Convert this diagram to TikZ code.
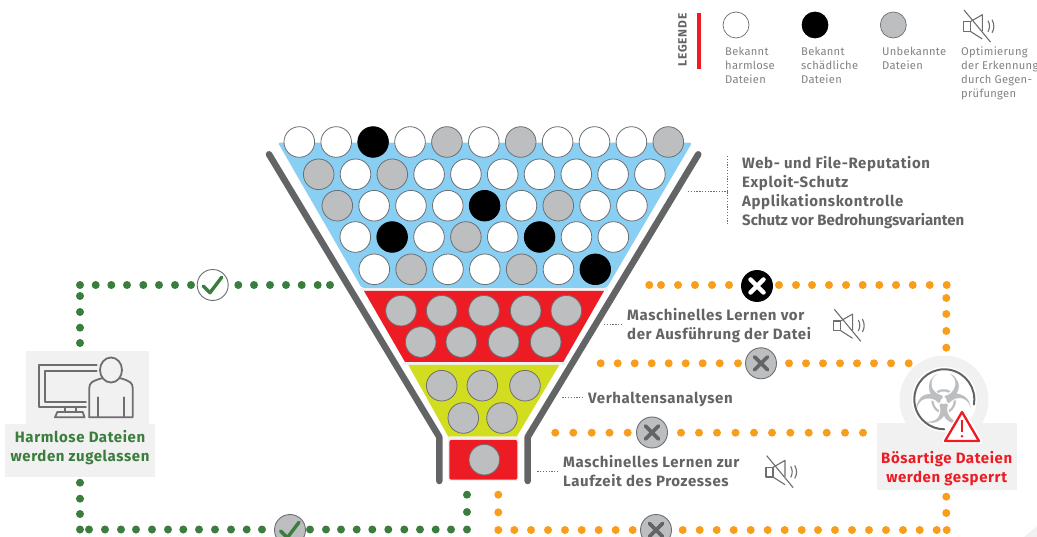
\documentclass[tikz,border=0pt]{standalone}
\usepackage{fontspec}
\setmainfont{Fira Sans}
\newfontfamily\symfont{DejaVu Sans}
\newfontfamily\labfont[LetterSpace=4]{Fira Sans}
\newfontfamily\tightfont{Fira Sans}
\newfontfamily\legfont[LetterSpace=2.5]{Fira Sans}
\newfontfamily\legtitle[LetterSpace=6]{Fira Sans}
\definecolor{fblue}{HTML}{89CFF4}
\definecolor{fred}{HTML}{ED1C24}
\definecolor{fyellow}{HTML}{D3DD20}
\definecolor{forange}{HTML}{F99D1C}
\definecolor{fgreen}{HTML}{3A7D3C}
\definecolor{fgrey}{HTML}{BCBEC0}
\definecolor{fline}{HTML}{6D6E70}
\definecolor{fdark}{HTML}{636466}
\definecolor{fpale}{HTML}{F1F1F1}
\definecolor{flegend}{HTML}{808285}
\tikzset{
  x=1pt,y=-1pt,
  ball/.style={circle,minimum size=30.6pt,inner sep=0pt,draw=fline,line width=.8pt},
  wb/.style={ball,fill=white},
  gb/.style={ball,fill=fgrey},
  kb/.style={ball,fill=black,draw=black},
  legball/.style={circle,minimum size=26pt,inner sep=0pt,draw=fline,line width=.7pt},
  badge/.style={circle,minimum size=31pt,inner sep=0pt,line width=.9pt},
  leader/.style={draw=fline,line width=.6pt,dash pattern=on 1.3pt off 1.5pt},
  funnel/.style={draw=fdark,line width=6.5pt,line cap=round,line join=round},
  lab/.style={font=\labfont\fontsize{15}{19}\bfseries\selectfont,text=fdark,anchor=west,align=left,inner sep=0pt},
  leg/.style={font=\legfont\fontsize{11.2}{14}\selectfont,text=flegend,anchor=north west,align=left,inner sep=0pt},
  res/.style={font=\labfont\fontsize{15}{19}\bfseries\selectfont,align=center,inner sep=0pt},
  icon/.style={draw=fline,line width=1.8pt,line join=round,line cap=round},
  mutel/.style={draw=fline,line width=1.1pt,line join=round},
  pics/mute/.style={code={
    \draw[mutel] (0,0) -- (26.5,32);
    \draw[mutel] (-.7,11.7) rectangle (6.3,21.3);
    \draw[mutel] (6.3,11.7) -- (18.3,4.7) -- (18.3,21);
    \draw[mutel] (6.3,21.3) -- (18.3,29);
    \draw[mutel] (24,10.7) .. controls (26,14) and (26,18) .. (24,21.7);
    \draw[mutel] (28,9.7) .. controls (30.5,14) and (30.5,19) .. (28,22.7);
  }}
}
\newcommand{\gdots}[2]{\foreach \px/\py in {#2} \fill[#1] (\px,\py) circle (4pt);}
\begin{document}
\begin{tikzpicture}
\useasboundingbox (0,0) rectangle (1037,537);
\clip (0,0) rectangle (1037,537);
\fill[white] (0,0) rectangle (1037,537);
\fill[fpale] (1037,526) -- (1037,537) -- (1024,537) -- cycle;

% funnel walls
\draw[funnel] (269,154.3) -- (439.3,437) -- (439.3,481);
\draw[funnel] (698.3,154.3) -- (527.7,437) -- (527.7,481);

% funnel stages
\fill[fblue,rounded corners=2pt] (278,142.7) -- (692,142.7) -- (606.7,288) -- (361.7,288) -- cycle;
\fill[fpale] (360,288) rectangle (608,291);
\fill[fred] (364,291) -- (604,291) -- (563.3,362) -- (405,362) -- cycle;
\fill[fpale] (403,362) rectangle (565,365);
\fill[fyellow] (408.3,365) -- (559.3,365) -- (516.7,436.7) -- (448.3,436.7) -- cycle;
\fill[fpale,rounded corners=2pt] (448,436.7) rectangle (518.5,481);
\fill[fred,rounded corners=2pt] (449.3,440) rectangle (517.3,479.7);

% balls
\foreach \st [count=\i from 0] in {wb,wb,kb,wb,gb,wb,gb,wb,wb,wb,gb}
  \node[\st] (ra\i) at (299.3+36.9*\i,142) {};
\foreach \st [count=\i from 0] in {gb,wb,gb,wb,wb,wb,wb,wb,wb,wb}
  \node[\st] (rb\i) at (318.7+36.8*\i,174.3) {};
\foreach \st [count=\i from 0] in {gb,wb,wb,wb,kb,wb,gb,wb,wb}
  \node[\st] (rc\i) at (337.3+36.83*\i,205.7) {};
\foreach \st [count=\i from 0] in {wb,kb,wb,gb,wb,kb,wb,wb}
  \node[\st] (rd\i) at (355.3+36.86*\i,237) {};
\foreach \st [count=\i from 0] in {wb,gb,wb,wb,gb,wb,kb}
  \node[\st] (re\i) at (374.3+36.83*\i,269.3) {};
\foreach \px [count=\i] in {401,441.7,484,525.7,566.3} \node[gb] (ma\i) at (\px,310.7) {};
\foreach \px [count=\i] in {420.7,461.3,503.7,545.7} \node[gb] (mb\i) at (\px,342) {};
\foreach \px [count=\i] in {441.7,482.3,525} \node[gb] (va\i) at (\px,385.7) {};
\foreach \px [count=\i] in {463.3,502} \node[gb] (vb\i) at (\px,418) {};
\node[gb] (lz) at (484.3,459.7) {};

% green dots
\gdots{fgreen}{80/285,95.7/285,111.3/285,127/285,143.3/285,159/285,175/285,191/285,238.3/285,254/285,270/285,286/285,301.7/285,317.7/285,330/285,
 80/296,80/312,80/327.7,80/343,80/482.7,80/498.7,80/514,80/529.5,
 89/529.5,105/529.5,121/529.5,136/529.5,152/529.5,168/529.5,183.3/529.5,199/529.5,215/529.5,231/529.5,246.7/529.5,262/529.5,
 310/529.5,326/529.5,341/529.5,356.7/529.5,372.3/529.5,388.3/529.5,404.3/529.5,420/529.5,435.7/529.5,451/529.5,467/529.5,467/512,467/494.7}
% orange dots
\gdots{forange}{649.3/285,661/285,678/285,695/285,712/285,729/285,
 779/285,796/285,812/285,829/285,846/285,862.7/285,879.3/285,896/285,912.7/285,929.7/285,946.7/285,
 946.3/298,946.3/314,946.3/331,946.3/347.7,
 600.7/363.3,617.7/363.3,634.7/363.3,651.7/363.3,668.7/363.3,685.7/363.3,702.7/363.3,719.7/363.3,738/363.3,
 789/363.3,806/363.3,823/363.3,840/363.3,857/363.3,874/363.3,891/363.3,908.7/363.3,
 555.3/432.7,573.3/432.7,591.7/432.7,609.5/432.7,627.7/432.7,
 681/432.7,699/432.7,717/432.7,735.5/432.7,754/432.7,772/432.7,790.3/432.7,808.7/432.7,826.7/432.7,845/432.7,863/432.7,
 498.3/494.7,498.3/512.3,498.3/530,514.3/530,531/530,548/530,565/530,581.7/530,598.7/530,615.7/530,632.7/530,
 682.7/530,699.7/530,716.7/530,733.7/530,750.7/530,767.7/530,784.7/530,801.7/530,818/530,835/530,852/530,869/530,886/530,903/530,919.7/530,936.7/530,946.7/530,
 946.3/513,946.3/496.7}

% badges
\node[badge,fill=white,draw=fline] (okTop) at (212.7,285) {};
\draw[fgreen,line width=3.4pt,line cap=round,line join=round] (203.3,286) -- (210,292.7) -- (221.7,277.3);
\node[badge,fill=fgrey,draw=fline] (okBot) at (290,530) {};
\draw[fgreen,line width=3.4pt,line cap=round,line join=round] (280.6,531) -- (287.3,537.7) -- (299,522.3);
\node[badge,fill=black,draw=black] (xTop) at (757,286) {};
\draw[white,line width=4.5pt,line cap=round] (750.5,279.5) -- (763.5,292.5) (750.5,292.5) -- (763.5,279.5);
\foreach \nm/\px/\py in {xA/761/363.3,xB/652/432.5,xC/656/530}{
  \node[badge,fill=fgrey,draw=fline] (\nm) at (\px,\py) {};
  \draw[fdark,line width=3.6pt,line cap=round] (\px-6.5,\py-6.5) -- (\px+6.5,\py+6.5) (\px-6.5,\py+6.5) -- (\px+6.5,\py-6.5);
}

% left result
\fill[fpale] (26,351) rectangle (149,424);
\node[fill=fpale,minimum width=150pt,minimum height=53pt,inner sep=0pt] (okBox) at (80,450.5) {};
\node[res,text=fgreen] (okText) at (80,447.7) {Harmlose Dateien\\werden zugelassen};
\draw[icon] (96.7,365.3) -- (39.3,365.3) -- (39.3,406.7) -- (86,406.7);
\draw[icon] (96.7,370.7) -- (45.3,370.7) -- (45.3,401.7) -- (86,401.7);
\draw[icon] (65,406.7) -- (65,412) (76,406.7) -- (76,412);
\draw[icon] (57.3,412) -- (82.7,412) -- (84.5,417.3) -- (55,417.3) -- cycle;
\draw[icon] (111,370) ellipse (11pt and 12.5pt);
\draw[icon] (89.3,417.3) -- (89.3,388) .. controls (89.3,383) and (92,381) .. (101.7,378.3);
\draw[icon] (120.7,378.3) .. controls (130,381) and (132.7,383) .. (132.7,388) -- (132.7,417.3) -- (89.3,417.3);
\draw[icon] (98,397.3) -- (98,417.3) (124,397.3) -- (124,417.3);

% right result
\fill[fpale] (944,400) circle (44.5pt);
\fill[fpale] (877,423) rectangle (1016.7,489.7);
\fill[white] (944.3,399.3) circle (32.5pt);
\node[font=\symfont\fontsize{68}{68}\selectfont,text=fgrey,inner sep=0pt] (bio) at (944,399) {☣};
\fill[white] (944.3,399.3) circle (2pt);
\draw[fdark,line width=2pt,line cap=round] (944.3,399.3) ++(10:30) arc[start angle=-10,end angle=270,radius=30pt];
\draw[white,line width=5pt,line join=round] (962,410.7) -- (980,441) -- (945,441) -- cycle;
\draw[fill=white,draw=fred,line width=2.3pt,line join=round] (962,412) -- (979,441) -- (945,441) -- cycle;
\draw[fred,line width=2.2pt] (962,420.5) -- (962,432);
\fill[fred] (962,436.3) circle (1.4pt);
\node[res,text=fred] (badText) at (946.7,468.8) {Bösartige Dateien\\werden gesperrt};

% leaders
\draw[leader] (727.3,156) -- (727.3,225);
\draw[leader] (688,191.7) -- (727.3,191.7);
\draw[leader] (604,324.7) -- (621.7,324.7);
\draw[leader] (562.3,397.3) -- (584,397.3);
\draw[leader] (537.3,471.7) -- (559.3,471.7);

% labels
\node[lab] (l1) at (742,192.2) {Web- und File-Reputation\\Exploit-Schutz\\Applikationskontrolle\\{\tightfont\bfseries Schutz vor Bedrohungsvarianten}};
\node[lab] (l2) at (627,326) {Maschinelles Lernen vor\\der Ausführung der Datei};
\node[lab] (l3) at (588,399.3) {Verhaltensanalysen};
\node[lab] (l4) at (563,471.5) {Maschinelles Lernen zur\\Laufzeit des Prozesses};
\pic at (834.3,309.3) {mute};
\pic at (766.7,455.7) {mute};

% legend
\node[rotate=90,font=\legtitle\fontsize{12}{14}\bfseries\selectfont,text=fdark,inner sep=0pt] (legT) at (682.5,40) {LEGENDE};
\fill[fred] (697.3,13) rectangle (701,69);
\node[legball,fill=white] (lw) at (736,25) {};
\node[legball,fill=black,draw=black] (lk) at (815,25) {};
\node[legball,fill=fgrey] (lg) at (893.3,25) {};
\pic at (964,10) {mute};
\node[leg] (t1) at (725,46.5) {Bekannt\\harmlose\\Dateien};
\node[leg] (t2) at (801,46.5) {Bekannt\\schädliche\\Dateien};
\node[leg] (t3) at (882,46.5) {Unbekannte\\Dateien};
\node[leg] (t4) at (961,46.5) {Optimierung\\der Erkennung\\durch Gegen-\\prüfungen};
\end{tikzpicture}
\end{document}
